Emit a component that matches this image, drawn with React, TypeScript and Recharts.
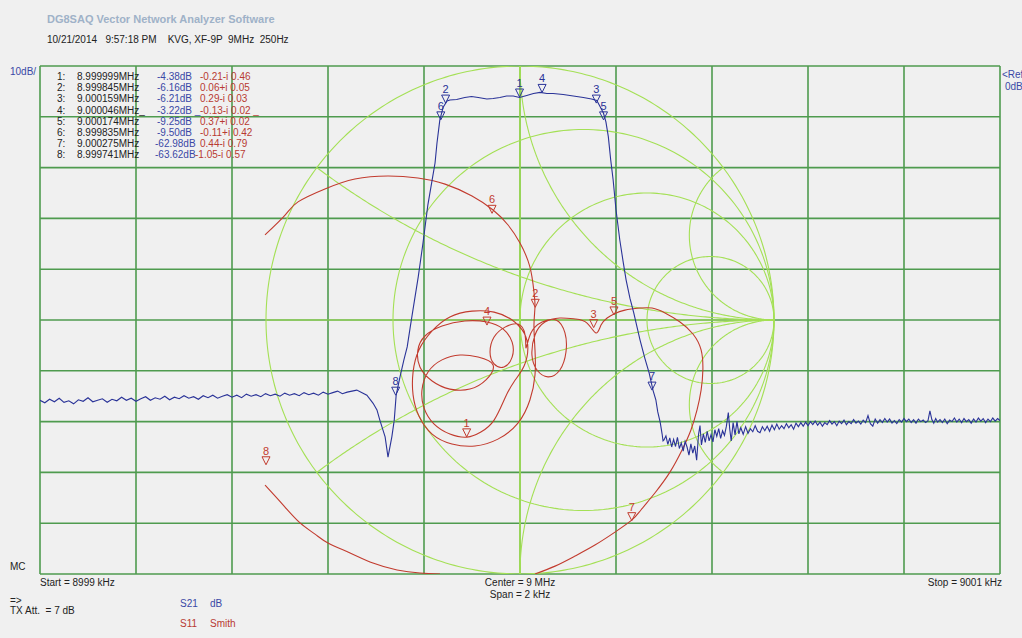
import { LineChart, Line, XAxis, YAxis, ReferenceLine, ReferenceDot } from 'recharts'

// chart geometry (plot area lands at x 40..1000, y 66..574)
const W = 980
const H = 528
const M = { top: 10, right: 10, bottom: 10, left: 10 }

const BG = '#f0f0f0'
const GRID = '#4f9b4f'
const SMITH = '#a4e055'
const BLUE = '#2a3398'
const RED = '#c23b2e'

// S21 axes: offset from 9 MHz in Hz, level in dB (Ref 0 dB, 10 dB/div)
const freqGrid = [-1000, -800, -600, -400, -200, 0, 200, 400, 600, 800, 1000]
const dbGrid = [0, -10, -20, -30, -40, -50, -60, -70, -80, -90, -100]

// Smith chart layout in reflection-coefficient units
const smithHalfSpan = 1.8898
const smithR = [1 / 3, 1, 3]
const smithX = [1 / 3, 1, 3, -1 / 3, -1, -3]

// S21 trace, [Hz offset, dB]
const s21Left: [number, number][] = [
  [-1000, -65.8], [-990, -66.3], [-980, -65.6], [-970, -66.1], [-960, -65.4], [-950, -66.2],
  [-940, -65.9], [-930, -66.5], [-920, -65.7], [-910, -66.0], [-900, -65.3], [-890, -66.1],
  [-880, -65.8], [-870, -65.5], [-860, -66.2], [-850, -65.6], [-840, -65.9], [-830, -65.2],
  [-820, -65.8], [-810, -65.4], [-800, -66.0], [-790, -65.5], [-780, -65.1], [-770, -65.8],
  [-760, -65.3], [-750, -65.6], [-740, -65.0], [-730, -65.7], [-720, -65.2], [-710, -65.5],
  [-700, -64.9], [-690, -65.4], [-680, -65.1], [-670, -65.6], [-660, -64.9], [-650, -65.3],
  [-640, -64.8], [-630, -65.4], [-620, -65.0], [-610, -64.7], [-600, -65.2], [-590, -64.8],
  [-580, -65.3], [-570, -64.6], [-560, -65.0], [-550, -64.7], [-540, -65.1], [-530, -64.5],
  [-520, -64.9], [-510, -64.6], [-500, -65.0], [-490, -64.4], [-480, -64.8], [-470, -64.5],
  [-460, -64.9], [-450, -64.3], [-440, -64.7], [-430, -64.4], [-420, -64.8], [-410, -64.2],
  [-400, -64.6], [-390, -64.3], [-380, -64.0], [-370, -64.5], [-360, -64.2], [-350, -64.0],
]
const s21Band: [number, number][] = [
  [-340, -63.8], [-327, -64.4], [-319, -64.8], [-306, -66.4], [-298, -67.7], [-292, -69.7],
  [-281, -73.0], [-275, -77.0], [-267, -73.0], [-262, -69.7], [-258, -64.8], [-250, -61.2],
  [-242, -57.9], [-235, -55.3], [-229, -51.6], [-223, -48.0], [-212, -41.5], [-202, -34.8],
  [-192, -27.4], [-183, -22.4], [-177, -19.1], [-173, -15.2], [-167, -10.6], [-160, -8.1],
  [-152, -6.9], [-146, -6.7], [-132, -6.6], [-115, -6.2], [-101, -6.0], [-87, -6.2],
  [-69, -6.5], [-56, -6.4], [-42, -6.2], [-28, -5.9], [-14, -5.9], [-1, -6.2], [14, -5.8],
  [28, -5.4], [42, -5.2], [56, -5.4], [69, -5.4], [90, -5.6], [111, -5.9], [132, -6.2],
  [149, -6.5], [160, -6.8], [167, -8.0], [174, -9.3], [179, -11.0], [184, -13.9], [189, -18.5],
  [194, -22.4], [200, -28.3], [208, -34.3], [215, -38.6], [221, -42.1], [229, -45.7],
  [237, -48.6], [250, -53.9], [260, -57.5], [269, -60.4], [277, -63.8], [283, -65.7],
  [287, -68.1], [292, -70.1], [296, -72.4], [298, -73.8],
]
const s21Right: [number, number][] = [
  [300, -73.6], [304, -72.8], [308, -74.5], [312, -73.2], [316, -75.0], [320, -73.5], [324, -74.9],
  [328, -73.1], [332, -75.3], [336, -74.2], [340, -75.8], [344, -73.9], [348, -75.0], [352, -76.6],
  [356, -74.4], [360, -76.2], [364, -74.8], [368, -77.6], [372, -72.5], [375, -70.8], [378, -74.6],
  [382, -72.4], [386, -74.1], [390, -71.9], [394, -73.8], [398, -72.6], [402, -74.0], [406, -71.6],
  [410, -72.9], [414, -71.4], [418, -73.3], [422, -71.8], [426, -72.7], [430, -70.9], [434, -68.2],
  [437, -71.5], [440, -73.8], [444, -70.2], [448, -72.6], [452, -70.0], [456, -72.4], [460, -71.2],
  [465, -72.5], [470, -71.0], [475, -72.3], [480, -71.4], [485, -72.0], [490, -70.8], [495, -71.9],
  [500, -72.2], [505, -71.0], [510, -71.8], [515, -70.9], [520, -71.9], [525, -70.7], [530, -71.6],
  [535, -70.5], [540, -71.5], [545, -70.8], [550, -71.4], [555, -70.4], [560, -71.2], [565, -70.6],
  [570, -71.5], [575, -70.3], [580, -71.0], [585, -70.2], [590, -70.9], [595, -70.1], [600, -70.8],
  [605, -70.0], [610, -70.6], [615, -69.9], [620, -70.7], [625, -70.1], [630, -70.9], [635, -70.2],
  [640, -70.6], [645, -69.8], [650, -70.5], [655, -70.0], [660, -70.8], [665, -69.9], [670, -70.4],
  [675, -69.7], [680, -70.6], [685, -70.0], [690, -70.4], [695, -69.6], [700, -70.3], [705, -69.9],
  [710, -70.5], [715, -69.7], [720, -70.2], [725, -68.8], [730, -70.4], [735, -70.9], [740, -69.5],
  [745, -70.3], [750, -69.6], [755, -70.2], [760, -69.4], [765, -70.1], [770, -69.5], [775, -70.3],
  [780, -69.8], [785, -70.4], [790, -69.6], [795, -70.1], [800, -69.4], [805, -70.0], [810, -69.5],
  [815, -70.2], [820, -69.6], [825, -70.3], [830, -69.5], [835, -70.0], [840, -69.7], [845, -70.2],
  [850, -69.8], [854, -67.9], [858, -69.6], [862, -70.3], [866, -69.4], [870, -70.1], [875, -69.6],
  [880, -70.2], [885, -69.5], [890, -70.4], [895, -69.7], [900, -70.0], [905, -69.3], [910, -70.1],
  [915, -69.5], [920, -70.2], [925, -69.4], [930, -70.0], [935, -69.6], [940, -70.3], [945, -69.5],
  [950, -70.1], [955, -69.3], [960, -69.9], [965, -69.4], [970, -70.2], [975, -69.5], [980, -70.0],
  [985, -69.3], [990, -69.9], [995, -69.4], [1000, -69.8],
]

// S11 trace, [Re, Im] of reflection coefficient (only the part inside the chart square)
const s11Start: [number, number][] = [
  [-0.315, -1.0], [-0.394, -0.996], [-0.484, -0.984], [-0.579, -0.957], [-0.669, -0.917],
  [-0.756, -0.878], [-0.807, -0.843], [-0.866, -0.799], [-0.933, -0.728], [-1.004, -0.65],
]
const s11Main: [number, number][] = [
  // outer arc down to marker 2
  [-1.004, 0.335], [-0.925, 0.413], [-0.874, 0.465], [-0.768, 0.516], [-0.65, 0.555], [-0.52, 0.567],
  [-0.402, 0.559], [-0.295, 0.535], [-0.189, 0.488], [-0.106, 0.433], [-0.047, 0.374], [0.0, 0.303],
  [0.039, 0.209], [0.055, 0.11], [0.059, 0.051],
  // big loop
  [0.055, -0.02], [0.059, -0.118], [0.059, -0.217], [0.039, -0.315], [-0.008, -0.406],
  [-0.087, -0.469], [-0.177, -0.496], [-0.268, -0.488], [-0.346, -0.449], [-0.398, -0.378],
  [-0.421, -0.295], [-0.421, -0.205], [-0.398, -0.118], [-0.346, -0.043], [-0.276, 0.012],
  [-0.189, 0.035], [-0.102, 0.031], [-0.031, 0.0], [0.016, -0.051], [0.031, -0.11], [0.016, -0.181],
  [-0.024, -0.244], [-0.059, -0.307],
  // loop through marker 1
  [-0.102, -0.394], [-0.154, -0.441], [-0.209, -0.461], [-0.276, -0.449], [-0.339, -0.409],
  [-0.378, -0.346], [-0.386, -0.276], [-0.362, -0.205], [-0.307, -0.157], [-0.236, -0.138],
  [-0.165, -0.146], [-0.106, -0.177],
  // loop through marker 4
  [-0.134, -0.236], [-0.197, -0.272], [-0.276, -0.272], [-0.346, -0.24], [-0.394, -0.185],
  [-0.402, -0.118], [-0.374, -0.063], [-0.307, -0.024], [-0.217, -0.004], [-0.13, -0.008],
  [-0.067, -0.035], [-0.031, -0.087], [-0.031, -0.146], [-0.063, -0.185],
  // small middle loop
  [-0.102, -0.173], [-0.118, -0.126], [-0.102, -0.067], [-0.059, -0.028], [-0.008, -0.016],
  [0.02, -0.059], [0.024, -0.11],
  // right loop and cusp at marker 3
  [0.043, -0.051], [0.087, -0.008], [0.142, 0.0], [0.177, -0.051], [0.181, -0.126], [0.157, -0.197],
  [0.11, -0.224], [0.067, -0.197], [0.047, -0.138], [0.059, -0.059], [0.098, -0.008], [0.157, 0.008],
  [0.217, 0.004], [0.264, -0.012], [0.299, -0.051],
  // big right swing to marker 7 and off the chart
  [0.319, -0.02], [0.343, 0.008], [0.37, 0.024], [0.413, 0.039], [0.472, 0.047], [0.52, 0.047],
  [0.571, 0.028], [0.63, -0.008], [0.681, -0.055], [0.713, -0.118], [0.72, -0.197], [0.713, -0.276],
  [0.697, -0.354], [0.673, -0.433], [0.638, -0.512], [0.591, -0.598], [0.531, -0.681],
  [0.476, -0.748], [0.441, -0.787], [0.374, -0.835], [0.295, -0.886], [0.217, -0.929],
  [0.138, -0.969], [0.059, -1.0],
]

// marker table
const markerNo = ['1:', '2:', '3:', '4:', '5:', '6:', '7:', '8:']
const markerFreq = ['8.999999MHz', '8.999845MHz', '9.000159MHz', '9.000046MHz_', '9.000174MHz', '8.999835MHz', '9.000275MHz', '8.999741MHz']
const markerDb = ['-4.38dB', '-6.16dB', '-6.21dB', '-3.22dB _', '-9.25dB', '-9.50dB', '-62.98dB', '-63.62dB']
const markerSmith = ['-0.21-i 0.46', '0.06+i 0.05', '0.29-i 0.03', '-0.13-i 0.02 _', '0.37+i 0.02', '-0.11+i 0.42', '0.44-i 0.79', '-1.05-i 0.57']

// marker glyph positions as seen on the traces
const s21MarkerHz = [-1, -155, 159, 46, 174, -165, 275, -259]
const s21MarkerDb = [-6.1, -7.3, -7.3, -5.2, -10.6, -10.6, -63.8, -64.8]
const s11MarkerRe = [-0.21, 0.06, 0.29, -0.13, 0.37, -0.11, 0.44, -1.0]
const s11MarkerIm = [-0.46, 0.05, -0.03, -0.02, 0.02, 0.42, -0.79, -0.57]

const toXY = (pts: [number, number][]) => pts.map(([x, y]) => ({ x, y }))

function arc(cx: number, cy: number, r: number, a0: number, a1: number, n = 200) {
  const pts = []
  for (let i = 0; i <= n; i++) {
    const a = a0 + ((a1 - a0) * i) / n
    pts.push({ x: cx + r * Math.cos(a), y: cy + r * Math.sin(a) })
  }
  return pts
}

function reactanceArc(x: number) {
  const ax = Math.abs(x)
  const gx = (ax * ax - 1) / (ax * ax + 1)
  const gy = (2 * ax) / (ax * ax + 1)
  let end = Math.atan2(gy - 1 / ax, gx - 1)
  if (end > -Math.PI / 2) end -= 2 * Math.PI
  const s = Math.sign(x)
  return arc(1, 1 / ax, 1 / ax, -Math.PI / 2, end).map(p => ({ x: p.x, y: s * p.y }))
}

const smithCurves = [
  arc(0, 0, 1, 0, 2 * Math.PI, 360),
  ...smithR.map(r => arc(r / (1 + r), 0, 1 / (1 + r), 0, 2 * Math.PI, 240)),
  ...smithX.map(reactanceArc),
  [{ x: -1, y: 0 }, { x: 1, y: 0 }],
]

const glyph = (label: string, color: string) => (p: any) => (
  <g>
    <polygon
      points={`${p.cx - 4},${p.cy - 8} ${p.cx + 4},${p.cy - 8} ${p.cx},${p.cy}`}
      fill="none"
      stroke={color}
      strokeWidth={1}
    />
    <text x={p.cx} y={p.cy - 10} textAnchor="middle" fontSize={11} fill={color} fontFamily="Liberation Sans, Arial, sans-serif">
      {label}
    </text>
  </g>
)

const layer: React.CSSProperties = { position: 'absolute', left: 30, top: 56 }

function S21Axes() {
  return [
    <XAxis key="x" type="number" dataKey="x" domain={[-1000, 1000]} hide allowDataOverflow />,
    <YAxis key="y" type="number" domain={[-100, 0]} hide allowDataOverflow />,
  ]
}

const font = 'Liberation Sans, Arial, sans-serif'

function Txt({ x, y, color = '#222', children, bold, size = 10, align }: any) {
  const style: React.CSSProperties = {
    position: 'absolute',
    top: y,
    fontSize: size,
    lineHeight: '12px',
    color,
    fontWeight: bold ? 'bold' : 'normal',
    whiteSpace: 'pre',
  }
  if (align === 'right') style.right = 1022 - x
  else if (align === 'center') { style.left = x; style.transform = 'translateX(-50%)' }
  else style.left = x
  return <div style={style}>{children}</div>
}

export default function App() {
  const s21 = toXY([...s21Left, ...s21Band, ...s21Right])
  return (
    <div style={{ position: 'absolute', left: 0, top: 0, width: 1022, height: 638, background: BG, fontFamily: font, overflow: 'hidden' }}>
      {/* dark grid */}
      <div style={layer}>
        <LineChart width={W} height={H} margin={M} data={s21}>
          {S21Axes()}
          {freqGrid.map(f => (
            <ReferenceLine key={'f' + f} x={f} stroke={GRID} strokeWidth={1.6} ifOverflow="visible" />
          ))}
          {dbGrid.map(d => (
            <ReferenceLine key={'d' + d} y={d} stroke={GRID} strokeWidth={1.6} ifOverflow="visible" />
          ))}
        </LineChart>
      </div>

      {/* Smith chart and S11 */}
      <div style={layer}>
        <LineChart width={W} height={H} margin={M}>
          <XAxis type="number" dataKey="x" domain={[-smithHalfSpan, smithHalfSpan]} hide allowDataOverflow />
          <YAxis type="number" domain={[-1, 1]} hide allowDataOverflow />
          <ReferenceLine x={0} stroke={SMITH} strokeWidth={1.6} />
          {smithCurves.map((c, i) => (
            <Line key={'s' + i} data={c} dataKey="y" type="linear" stroke={SMITH} strokeWidth={1.1} dot={false} isAnimationActive={false} />
          ))}
          <Line data={toXY(s11Start)} dataKey="y" type="natural" stroke={RED} strokeWidth={1.1} dot={false} isAnimationActive={false} />
          <Line data={toXY(s11Main)} dataKey="y" type="natural" stroke={RED} strokeWidth={1.1} dot={false} isAnimationActive={false} />
          {s11MarkerRe.map((re, i) => (
            <ReferenceDot key={'m' + i} x={re} y={s11MarkerIm[i]} r={0} ifOverflow="visible" shape={glyph(String(i + 1), RED)} />
          ))}
        </LineChart>
      </div>

      {/* S21 trace */}
      <div style={layer}>
        <LineChart width={W} height={H} margin={M} data={s21}>
          {S21Axes()}
          <Line dataKey="y" type="linear" stroke={BLUE} strokeWidth={1.1} dot={false} isAnimationActive={false} />
          {s21MarkerHz.map((hz, i) => (
            <ReferenceDot key={'b' + i} x={hz} y={s21MarkerDb[i]} r={0} ifOverflow="visible" shape={glyph(String(i + 1), BLUE)} />
          ))}
        </LineChart>
      </div>

      <Txt x={47} y={13} bold size={11} color="#9fb2c8">DG8SAQ Vector Network Analyzer Software</Txt>
      <Txt x={47} y={34}>{'10/21/2014   9:57:18 PM    KVG, XF-9P  9MHz  250Hz'}</Txt>
      <Txt x={10} y={66} color="#3a48a6">10dB/</Txt>
      <Txt x={1002} y={69} color="#3a48a6">{'<Ref'}</Txt>
      <Txt x={1005} y={81} color="#3a48a6">0dB</Txt>

      {markerNo.map((n, i) => (
        <div key={'row' + i}>
          <Txt x={57} y={71 + i * 11.2}>{n}</Txt>
          <Txt x={77} y={71 + i * 11.2}>{markerFreq[i]}</Txt>
          <Txt x={i >= 6 ? 155 : 157} y={71 + i * 11.2} color="#3a48a6">{markerDb[i]}</Txt>
          <Txt x={i === 7 ? 195 : 200} y={71 + i * 11.2} color="#b83a32">{markerSmith[i]}</Txt>
        </div>
      ))}

      <Txt x={10} y={561}>MC</Txt>
      <Txt x={40} y={577}>Start = 8999 kHz</Txt>
      <Txt x={520} y={577} align="center">Center = 9 MHz</Txt>
      <Txt x={520} y={589} align="center">Span = 2 kHz</Txt>
      <Txt x={1002} y={577} align="right">Stop = 9001 kHz</Txt>
      <Txt x={10} y={595}>{'=>'}</Txt>
      <Txt x={10} y={605}>{'TX Att.  = 7 dB'}</Txt>
      <Txt x={180} y={598} color="#3a48a6">S21</Txt>
      <Txt x={210} y={598} color="#3a48a6">dB</Txt>
      <Txt x={180} y={618} color="#b83a32">S11</Txt>
      <Txt x={210} y={618} color="#b83a32">Smith</Txt>
    </div>
  )
}
